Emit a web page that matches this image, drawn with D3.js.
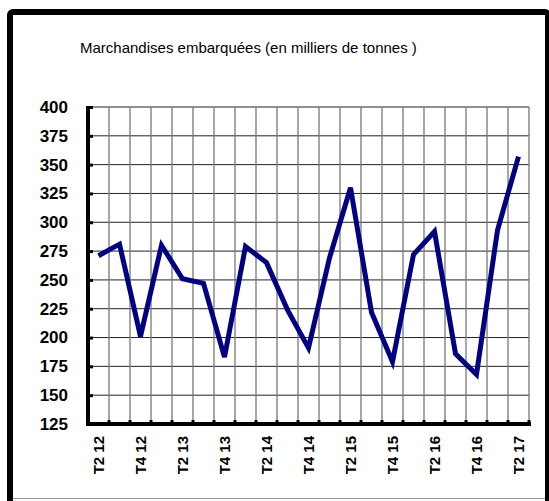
<!DOCTYPE html>
<html>
<head>
<meta charset="utf-8">
<script src="https://cdn.jsdelivr.net/npm/d3@7"></script>
<style>
  body { margin: 0; background: #fff; }
  svg { display: block; }
</style>
</head>
<body>
<svg width="549" height="501"></svg>
<script>
(function (d3) {
    'use strict';

    const title = 'Marchandises embarquées (en milliers de tonnes )';
    const quarters = [
        'T2 12', 'T3 12', 'T4 12', 'T1 13', 'T2 13', 'T3 13', 'T4 13',
        'T1 14', 'T2 14', 'T3 14', 'T4 14', 'T1 15', 'T2 15', 'T3 15',
        'T4 15', 'T1 16', 'T2 16', 'T3 16', 'T4 16', 'T1 17', 'T2 17'
    ];
    const tonnes = [
        271, 281, 201, 280, 251, 247, 183, 279, 265, 224, 191,
        269, 330, 222, 179, 272, 292, 186, 168, 293, 357
    ];
    const yTicks = [125, 150, 175, 200, 225, 250, 275, 300, 325, 350, 375, 400];

    const svg = d3.select('svg');

    // outer frame
    svg.append('rect')
        .attr('x', 10).attr('y', 12)
        .attr('width', 538).attr('height', 510)
        .attr('rx', 3)
        .attr('fill', 'none')
        .attr('stroke', '#000')
        .attr('stroke-width', 6);
    svg.append('line')
        .attr('x1', 13).attr('x2', 545)
        .attr('y1', 498.5).attr('y2', 498.5)
        .attr('stroke', '#999');

    svg.append('text')
        .attr('x', 80).attr('y', 53)
        .attr('font-family', 'Liberation Sans, Arial, sans-serif')
        .attr('font-size', 15)
        .text(title);

    const x = d3.scaleBand().domain(quarters).range([88, 529]).padding(0);
    const y = d3.scaleLinear().domain([125, 400]).range([424, 107]);

    const g = svg.append('g');

    // horizontal grid
    g.selectAll('line.h').data(yTicks.slice(1))
        .enter().append('line')
        .attr('class', 'h')
        .attr('x1', 88).attr('x2', x.range()[1])
        .attr('y1', d => y(d)).attr('y2', d => y(d))
        .attr('stroke', '#222')
        .attr('stroke-width', 1);

    // vertical grid at band edges
    g.selectAll('line.v').data(quarters)
        .enter().append('line')
        .attr('class', 'v')
        .attr('x1', d => x(d) + x.bandwidth())
        .attr('x2', d => x(d) + x.bandwidth())
        .attr('y1', y(400)).attr('y2', y(125))
        .attr('stroke', '#777')
        .attr('stroke-width', 1.3);

    // y axis
    const yAxis = d3.axisLeft(y).tickValues(yTicks).tickSize(-5).tickPadding(20);
    const ya = g.append('g').attr('transform', 'translate(88,0)').call(yAxis);
    ya.select('.domain').remove();
    ya.selectAll('.tick line').attr('stroke', '#000').attr('stroke-width', 3);
    ya.selectAll('.tick text')
        .attr('font-family', 'Liberation Sans, Arial, sans-serif')
        .attr('font-weight', 'bold')
        .attr('font-size', 17)
        .attr('fill', '#000');
    g.append('line')
        .attr('x1', 88).attr('x2', 88)
        .attr('y1', y(400) - 1).attr('y2', y(125) + 2)
        .attr('stroke', '#000').attr('stroke-width', 4);

    // x axis
    const xAxis = d3.axisBottom(x)
        .tickValues(quarters.filter((d, i) => i % 2 === 0))
        .tickSize(0).tickPadding(12);
    const xa = g.append('g').attr('transform', 'translate(0,424)').call(xAxis);
    xa.select('.domain').remove();
    xa.selectAll('.tick text')
        .attr('font-family', 'Liberation Sans, Arial, sans-serif')
        .attr('font-weight', 'bold')
        .attr('font-size', 15)
        .attr('fill', '#000')
        .attr('text-anchor', 'end')
        .attr('transform', 'rotate(-90)')
        .attr('x', -12).attr('y', 0).attr('dy', '0.36em');
    g.selectAll('rect.xt').data(quarters)
        .enter().append('rect')
        .attr('class', 'xt')
        .attr('x', d => x(d) + x.bandwidth() - 1.5)
        .attr('y', 420)
        .attr('width', 3).attr('height', 4)
        .attr('fill', '#000');
    g.append('line')
        .attr('x1', 86).attr('x2', x.range()[1] + 2)
        .attr('y1', 424).attr('y2', 424)
        .attr('stroke', '#000').attr('stroke-width', 4);

    // series
    const line = d3.line()
        .x((d, i) => x(quarters[i]) + x.bandwidth() / 2)
        .y(d => y(d));
    g.append('path')
        .datum(tonnes)
        .attr('d', line)
        .attr('fill', 'none')
        .attr('stroke', '#000080')
        .attr('stroke-width', 5)
        .attr('stroke-linejoin', 'miter');
}(d3));
</script>
</body>
</html>
